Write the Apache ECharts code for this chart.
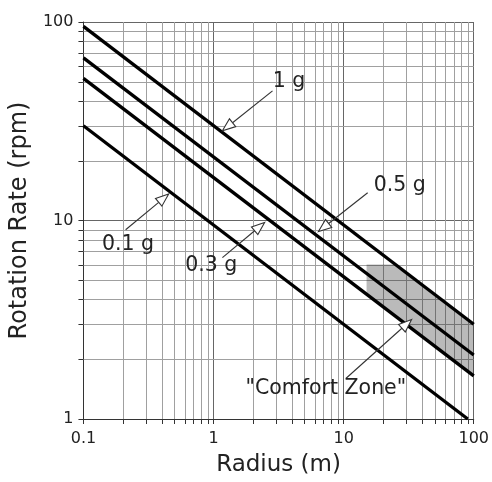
<!DOCTYPE html>
<html><head><meta charset="utf-8">
<script src="https://cdn.jsdelivr.net/npm/echarts@6/dist/echarts.min.js"></script>
<style>html,body{margin:0;padding:0;background:#fff}#c{width:492px;height:482px}</style>
</head><body><div id="c"></div>
<script>
// ---- data ----
const radiusEnds = [0.1, 100];          // radius (m) at line ends
const rpm1g  = [95, 3.0];
const rpm05g = [66, 2.1];
const rpm03g = [52, 1.65];
const radius01g = [0.1, 90];
const rpm01g = [30, 1.0];

// comfort zone polygon vertices
const comfortR   = [15, 25, 100, 100, 15];
const comfortRpm = [6, 6, 3.0, 1.65, 4.25];

// minor grid values
const xMinor = [0.2,0.3,0.4,0.5,0.6,0.7,0.8,0.9, 2,3,4,5,6,7,8,9, 20,30,40,50,60,70,80,90];
const yMinor = [2,3,4,5,6,7,8,9, 20,30,40,50,60,70,80,90];

// annotations
const labelText = ['1 g', '0.5 g', '0.1 g', '0.3 g', '"Comfort Zone"'];
const labelR    = [3.8, 27, 0.22, 0.96, 7.3];
const labelRpm  = [50, 14.9, 7.58, 5.9, 1.42];
const arrowFromR   = [2.84, 15.3, 0.211, 1.17, 10.4];
const arrowFromRpm = [45, 13.8, 8.98, 6.5, 1.60];
const arrowToR     = [1.17, 6.4, 0.452, 2.47, 33.3];
const arrowToRpm   = [28.3, 8.8, 13.6, 9.78, 3.17];

// ---- chart ----
const FONT = 'DejaVu Sans';
const chart = echarts.init(document.getElementById('c'), null, {renderer: 'canvas'});
const pairs = (xs, ys) => xs.map((x, i) => [x, ys[i]]);

function gLine(name, xs, ys) {
  return {
    name, type: 'line', data: pairs(xs, ys), symbol: 'none', z: 5, clip: true,
    lineStyle: {color: '#000', width: 3.3}, silent: true
  };
}

const option = {
  animation: false,
  backgroundColor: '#fff',
  grid: {left: 75, right: 18, top: 22, bottom: 62},
  xAxis: {
    type: 'log', logBase: 10, min: 0.1, max: 100,
    name: 'Radius (m)', nameLocation: 'middle', nameGap: 35,
    nameTextStyle: {fontFamily: FONT, fontSize: 23, color: '#222'},
    axisLine: {show: true, lineStyle: {color: '#333', width: 1}},
    axisTick: {show: true, length: 5, lineStyle: {color: '#333'}},
    axisLabel: {fontFamily: FONT, fontSize: 16, color: '#222', margin: 12},
    splitLine: {show: true, lineStyle: {color: '#666', width: 1}},
    minorTick: {show: false}, minorSplitLine: {show: false}
  },
  yAxis: {
    type: 'log', logBase: 10, min: 1, max: 100,
    name: 'Rotation Rate (rpm)', nameLocation: 'middle', nameGap: 37,
    nameTextStyle: {fontFamily: FONT, fontSize: 24, color: '#222'},
    axisLine: {show: true, lineStyle: {color: '#333', width: 1}},
    axisTick: {show: true, length: 5, lineStyle: {color: '#333'}},
    axisLabel: {fontFamily: FONT, fontSize: 16, color: '#222', margin: 10},
    splitLine: {show: true, lineStyle: {color: '#666', width: 1}},
    minorTick: {show: false}, minorSplitLine: {show: false}
  },
  series: [
    { // minor vertical grid + ticks
      type: 'custom', coordinateSystem: 'cartesian2d', silent: true, z: 1,
      data: xMinor.map(v => [v, 1]),
      renderItem(params, api) {
        const cs = params.coordSys;
        const p = api.coord([api.value(0), api.value(1)]);
        const x = Math.round(p[0]) + 0.5;
        return {type: 'group', children: [
          {type: 'line', shape: {x1: x, y1: cs.y, x2: x, y2: cs.y + cs.height}, style: {stroke: '#a0a0a0', lineWidth: 1}},
          {type: 'line', shape: {x1: x, y1: cs.y + cs.height, x2: x, y2: cs.y + cs.height + 5}, style: {stroke: '#333', lineWidth: 1}}
        ]};
      }
    },
    { // minor horizontal grid + ticks
      type: 'custom', coordinateSystem: 'cartesian2d', silent: true, z: 1,
      data: yMinor.map(v => [0.1, v]),
      renderItem(params, api) {
        const cs = params.coordSys;
        const p = api.coord([api.value(0), api.value(1)]);
        const y = Math.round(p[1]) + 0.5;
        return {type: 'group', children: [
          {type: 'line', shape: {x1: cs.x, y1: y, x2: cs.x + cs.width, y2: y}, style: {stroke: '#a0a0a0', lineWidth: 1}},
          {type: 'line', shape: {x1: cs.x - 5, y1: y, x2: cs.x, y2: y}, style: {stroke: '#333', lineWidth: 1}}
        ]};
      }
    },
    { // comfort zone
      type: 'custom', coordinateSystem: 'cartesian2d', silent: true, z: 3,
      data: pairs(comfortR, comfortRpm),
      renderItem(params, api) {
        if (params.dataIndex !== 0) return null;
        const pts = comfortR.map((r, i) => api.coord([r, comfortRpm[i]]));
        return {type: 'polygon', shape: {points: pts}, style: {fill: 'rgba(0,0,0,0.27)'}};
      }
    },
    gLine('1 g', radiusEnds, rpm1g),
    gLine('0.5 g', radiusEnds, rpm05g),
    gLine('0.3 g', radiusEnds, rpm03g),
    gLine('0.1 g', radius01g, rpm01g),
    { // arrows
      type: 'custom', coordinateSystem: 'cartesian2d', silent: true, z: 8,
      encode: {x: [0, 2], y: [1, 3]},
      data: arrowFromR.map((r, i) => [r, arrowFromRpm[i], arrowToR[i], arrowToRpm[i]]),
      renderItem(params, api) {
        const p1 = api.coord([api.value(0), api.value(1)]);
        const p2 = api.coord([api.value(2), api.value(3)]);
        const dx = p2[0] - p1[0], dy = p2[1] - p1[1];
        const len = Math.sqrt(dx * dx + dy * dy);
        const ux = dx / len, uy = dy / len, nx = -uy, ny = ux;
        const L = 13, W = 5;
        const bx = p2[0] - ux * L, by = p2[1] - uy * L;
        return {type: 'group', children: [
          {type: 'line', shape: {x1: p1[0], y1: p1[1], x2: bx, y2: by}, style: {stroke: '#333', lineWidth: 1.1}},
          {type: 'polygon', shape: {points: [[p2[0], p2[1]], [bx + nx * W, by + ny * W], [bx - nx * W, by - ny * W]]},
           style: {fill: '#fff', stroke: '#333', lineWidth: 1.1}}
        ]};
      }
    },
    { // annotation labels
      type: 'custom', coordinateSystem: 'cartesian2d', silent: true, z: 9,
      data: labelR.map((r, i) => [r, labelRpm[i]]),
      renderItem(params, api) {
        const p = api.coord([api.value(0), api.value(1)]);
        return {type: 'text', x: p[0], y: p[1], style: {
          text: labelText[params.dataIndex], fontFamily: FONT, fontSize: 20.5, fill: '#222',
          align: 'center', verticalAlign: 'middle'
        }};
      }
    }
  ]
};
chart.setOption(option);
</script>
</body></html>
